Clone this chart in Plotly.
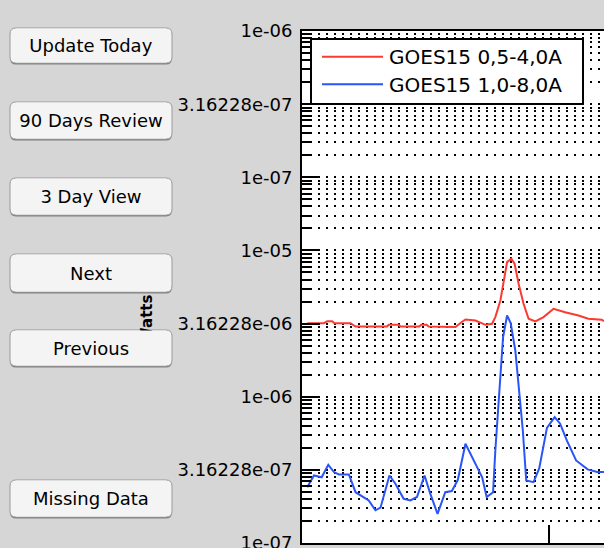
import math
import plotly.graph_objects as go

# ---------------- data ----------------
series_names = ["GOES15 0,5-4,0A", "GOES15 1,0-8,0A"]

hours_red = [0.51, 2.13, 2.45, 2.93, 3.15, 4.71, 5.20, 8.25, 8.42, 9.39, 9.55, 11.39, 11.58,
             12.10, 12.29, 14.90, 15.48, 15.87, 16.84, 17.81, 18.45, 18.77, 19.26, 19.58,
             19.91, 20.32, 20.64, 21.03, 21.51, 22.00, 22.65, 23.45, 24.42, 25.55, 26.84,
             27.80, 29.10, 29.32]
flux_red = [3.18e-6, 3.18e-6, 3.28e-6, 3.28e-6, 3.18e-6, 3.18e-6, 3.02e-6, 3.02e-6, 3.10e-6,
            3.10e-6, 3.02e-6, 3.02e-6, 3.10e-6, 3.10e-6, 3.02e-6, 2.99e-6, 3.23e-6, 3.37e-6,
            3.32e-6, 3.10e-6, 3.15e-6, 3.50e-6, 4.55e-6, 6.24e-6, 8.32e-6, 8.77e-6, 8.11e-6,
            5.92e-6, 4.32e-6, 3.41e-6, 3.27e-6, 3.50e-6, 3.99e-6, 3.78e-6, 3.59e-6, 3.41e-6,
            3.36e-6, 3.28e-6]

hours_blue = [0.51, 1.00, 1.16, 1.91, 2.55, 3.10, 3.58, 4.55, 5.20, 6.48, 7.13, 7.62, 8.49,
              9.07, 9.87, 10.52, 11.16, 11.90, 12.45, 13.16, 13.91, 14.55, 15.13, 15.87,
              16.67, 17.49, 17.93, 18.55, 18.77, 19.19, 19.52, 19.91, 20.26, 20.71, 21.13,
              21.44, 21.77, 22.48, 23.03, 23.78, 24.53, 25.06, 25.71, 26.61, 27.73, 28.65,
              29.32]
flux_blue = [2.40e-7, 2.81e-7, 2.89e-7, 2.81e-7, 3.42e-7, 3.05e-7, 2.94e-7, 2.94e-7, 2.22e-7,
             1.95e-7, 1.67e-7, 1.74e-7, 2.89e-7, 2.54e-7, 2.00e-7, 1.95e-7, 2.06e-7, 2.89e-7,
             2.17e-7, 1.58e-7, 2.22e-7, 2.26e-7, 2.70e-7, 4.76e-7, 3.66e-7, 2.81e-7, 2.06e-7,
             2.22e-7, 4.28e-7, 1.256e-6, 2.55e-6, 3.59e-6, 3.19e-6, 2.07e-6, 9.42e-7, 5.87e-7,
             2.67e-7, 2.60e-7, 3.23e-7, 6.11e-7, 7.24e-7, 6.53e-7, 5.02e-7, 3.66e-7, 3.18e-7,
             3.05e-7, 3.05e-7]

tick_exponents = [-7, -6.5, -6, -5.5, -5, -4.5, -4, -3.5]
tick_labels = ["1e-07", "3.16228e-07", "1e-06", "3.16228e-06", "1e-05",
               "1e-07", "3.16228e-07", "1e-06"]
x_tick_hours = [24]
x_range_hours = [0, 29.32]

button_labels = ["Update Today", "90 Days Review", "3 Day View", "Next", "Previous", "Missing Data"]
axis_title = "<b>Watts m<sup>-2</sup></b>"

# ---------------- layout geometry / style ----------------
W, H = 604, 548
ML, MR, MT, MB = 302, 0, 31, 5
PW = W - ML - MR
PH = H - MT - MB
FONT = "DejaVu Sans"
BG = "#d6d6d6"
RED = "#fb3a30"
BLUE = "#2a55f7"
DOTS = "2px,6px"


def fx(px):
    return (px - ML) / PW


def fy(py):
    return (MT + PH - py) / PH


def rounded_path(x0, y0, x1, y1, r):
    pts = [
        ("M", [(x0 + r, y0)]), ("L", [(x1 - r, y0)]), ("Q", [(x1, y0), (x1, y0 + r)]),
        ("L", [(x1, y1 - r)]), ("Q", [(x1, y1), (x1 - r, y1)]), ("L", [(x0 + r, y1)]),
        ("Q", [(x0, y1), (x0, y1 - r)]), ("L", [(x0, y0 + r)]), ("Q", [(x0, y0), (x0 + r, y0)]),
    ]
    s = ""
    for cmd, ps in pts:
        s += cmd + " " + " ".join(f"{fx(a):.5f},{fy(b):.5f}" for a, b in ps) + " "
    return s + "Z"


major_vals = [10 ** e for e in tick_exponents]
minor_vals = []
for e in tick_exponents[:-1]:
    for k in range(2, 10):
        minor_vals.append(10 ** (e + 0.5 * math.log10(k)))

fig = go.Figure()
fig.add_trace(go.Scatter(x=hours_red, y=flux_red, mode="lines", name=series_names[0],
                         line=dict(color=RED, width=2), showlegend=False))
fig.add_trace(go.Scatter(x=hours_blue, y=flux_blue, mode="lines", name=series_names[1],
                         line=dict(color=BLUE, width=2), showlegend=False))

shapes = []
annotations = []

# y-axis title (partly hidden behind the buttons)
annotations.append(dict(text=axis_title, textangle=-90, x=fx(146), y=fy(303),
                        xref="paper", yref="paper", showarrow=False,
                        xanchor="center", yanchor="middle",
                        font=dict(family=FONT, size=15, color="black")))

# legend box
shapes.append(dict(type="rect", xref="paper", yref="paper", x0=fx(311), x1=fx(583),
                   y0=fy(104), y1=fy(39), fillcolor="white",
                   line=dict(color="black", width=2), layer="above"))
for name, color, py in [(series_names[0], RED, 56.7), (series_names[1], BLUE, 84.3)]:
    shapes.append(dict(type="line", xref="paper", yref="paper", x0=fx(322), x1=fx(383),
                       y0=fy(py), y1=fy(py), line=dict(color=color, width=2), layer="above"))
    annotations.append(dict(text=name, x=fx(387), y=fy(py + 0.5), xref="paper", yref="paper",
                            xanchor="left", yanchor="middle", showarrow=False,
                            font=dict(family=FONT, size=20, color="black")))

# buttons
button_rows = [(28, 63), (102, 139), (178, 215), (254, 292), (330, 366), (480, 517)]
BX0, BX1 = 10, 172
for label, (top, bot) in zip(button_labels, button_rows):
    shapes.append(dict(type="path", xref="paper", yref="paper",
                       path=rounded_path(BX0, top + 1.5, BX1, bot + 1.5, 6),
                       fillcolor="rgba(60,60,60,0.55)", line=dict(width=0), layer="above"))
    shapes.append(dict(type="path", xref="paper", yref="paper",
                       path=rounded_path(BX0, top, BX1, bot, 6),
                       fillcolor="#f4f4f4", line=dict(color="#9a9a9a", width=1), layer="above"))
    annotations.append(dict(text=label, x=fx((BX0 + BX1) / 2), y=fy((top + bot) / 2),
                            xref="paper", yref="paper", xanchor="center", yanchor="middle",
                            width=BX1 - BX0 - 12, height=bot - top - 2, borderpad=0,
                            bgcolor="#f4f4f4", showarrow=False,
                            font=dict(family=FONT, size=18, color="black")))

fig.update_layout(
    width=W, height=H,
    margin=dict(l=ML, r=MR, t=MT, b=MB, pad=0, autoexpand=False),
    paper_bgcolor=BG, plot_bgcolor="white",
    font=dict(family=FONT, color="black"),
    showlegend=False,
    shapes=shapes, annotations=annotations,
    xaxis=dict(range=x_range_hours, tickmode="array", tickvals=x_tick_hours,
               ticks="inside", ticklen=18, tickwidth=2, tickcolor="black",
               showticklabels=False, showgrid=False, zeroline=False, automargin=False,
               showline=True, linecolor="black", linewidth=2, mirror=True),
    yaxis=dict(type="log", range=[-7.001, -3.499], tickmode="array",
               tickvals=major_vals, ticktext=tick_labels,
               ticks="inside", ticklen=18, tickwidth=2, tickcolor="black",
               showgrid=True, gridcolor="black", griddash=DOTS, gridwidth=1.5,
               minor=dict(tickmode="array", tickvals=minor_vals, ticks="inside",
                          ticklen=9, tickwidth=2, tickcolor="black",
                          showgrid=True, gridcolor="black", griddash=DOTS, gridwidth=1.5),
               showline=True, linecolor="black", linewidth=2, mirror=False,
               zeroline=False, automargin=False, ticklabelstandoff=4,
               ticklabeloverflow="allow",
               tickfont=dict(family=FONT, size=18, color="black")),
)

fig.write_html(
    "out.html",
    config={"displayModeBar": False},
    post_script=("document.body.style.margin='0';"
                 "document.body.style.overflow='hidden';"
                 "document.body.style.background='" + BG + "';"),
)
